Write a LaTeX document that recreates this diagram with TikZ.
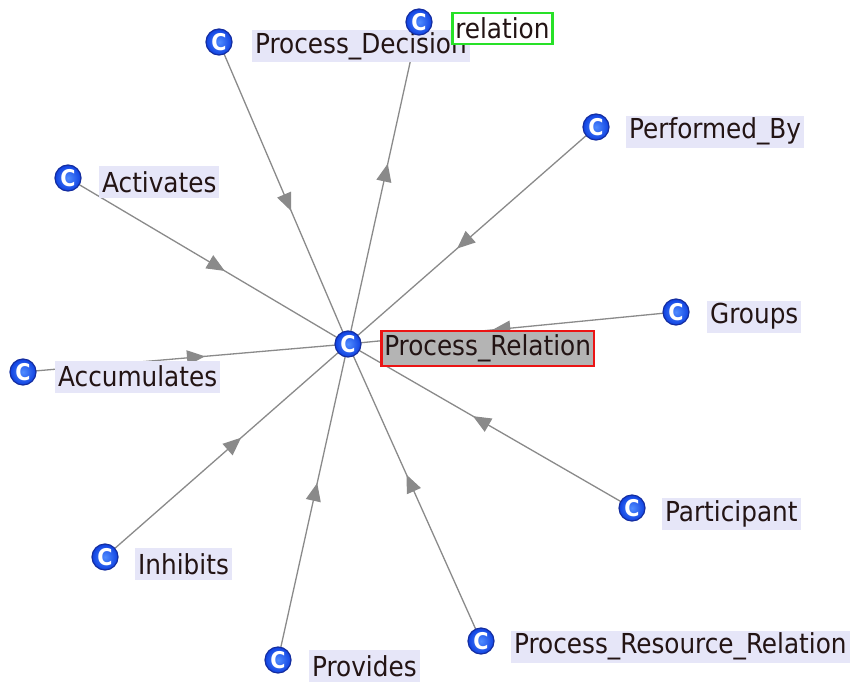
\documentclass[tikz,border=0pt]{standalone}
\usepackage{fontspec}
\setmainfont{DejaVu Sans Condensed}
\usetikzlibrary{arrows.meta,decorations.markings,backgrounds}
\definecolor{lav}{RGB}{230,230,248}
\definecolor{edgegray}{RGB}{138,138,138}
\definecolor{icin}{RGB}{80,140,255}
\definecolor{icout}{RGB}{15,65,225}
\definecolor{icdark}{RGB}{20,45,160}
\definecolor{txt}{RGB}{35,20,20}
\definecolor{selgray}{RGB}{180,180,180}
\definecolor{selred}{RGB}{235,20,20}
\definecolor{selgreen}{RGB}{40,225,40}
\tikzset{
 ic/.style={circle,minimum size=26pt,inner sep=0pt,inner color=icin,outer color=icout,draw=icdark,line width=1.2pt,text=white,font=\fontsize{23}{23}\selectfont\bfseries},
 lbl/.style={anchor=west,fill=lav,text=txt,inner xsep=3pt,inner ysep=0pt,minimum height=32pt,font=\fontsize{27.5}{27.5}\selectfont},
 rel/.style={edgegray,line width=1.3pt,postaction={decorate},decoration={markings,mark=at position 0.56 with {\arrow{Triangle[length=18pt,width=15pt]}}}},
}
\begin{document}
\begin{tikzpicture}[x=1pt,y=-1pt]
\useasboundingbox (0,0) rectangle (850,682);
% icon centres
\coordinate (cPR) at (348,344);
\coordinate (cPD) at (219,42);
\coordinate (cRL) at (419,22);
\coordinate (cPB) at (596,127);
\coordinate (cAC) at (68,178);
\coordinate (cGR) at (676,312);
\coordinate (cAM) at (23,372);
\coordinate (cPA) at (632,508);
\coordinate (cIN) at (105,557);
\coordinate (cPV) at (278,660);
\coordinate (cRR) at (481,641);
% labels
\node[lbl,fill=selgray,draw=selred,line width=2.5pt,inner xsep=3pt,minimum height=35pt] (lPR) at ([xshift=32pt,yshift=-4.5pt]cPR) {Process\_Relation};
\node[lbl] (lPD) at ([xshift=33pt,yshift=-4pt]cPD) {Process\_Decision};
\node[lbl,fill=white,draw=selgreen,line width=2.5pt,minimum height=31pt] (lRL) at ([xshift=32pt,yshift=-6.5pt]cRL) {relation};
\node[lbl] (lPB) at ([xshift=30pt,yshift=-4.5pt]cPB) {Performed\_By};
\node[lbl] (lAC) at ([xshift=31pt,yshift=-4pt]cAC) {Activates};
\node[lbl] (lGR) at ([xshift=31pt,yshift=-4.5pt]cGR) {Groups};
\node[lbl] (lAM) at ([xshift=32pt,yshift=-4.5pt]cAM) {Accumulates};
\node[lbl] (lPA) at ([xshift=30pt,yshift=-5.5pt]cPA) {Participant};
\node[lbl] (lIN) at ([xshift=30pt,yshift=-7pt]cIN) {Inhibits};
\node[lbl] (lPV) at ([xshift=31pt,yshift=-6pt]cPV) {Provides};
\node[lbl] (lRR) at ([xshift=30pt,yshift=-5.5pt]cRR) {Process\_Resource\_Relation};
% icons
\node[ic] (PR) at (cPR) {C};
\node[ic] (PD) at (cPD) {C};
\node[ic] (RL) at (cRL) {C};
\node[ic] (PB) at (cPB) {C};
\node[ic] (AC) at (cAC) {C};
\node[ic] (GR) at (cGR) {C};
\node[ic] (AM) at (cAM) {C};
\node[ic] (PA) at (cPA) {C};
\node[ic] (IN) at (cIN) {C};
\node[ic] (PV) at (cPV) {C};
\node[ic] (RR) at (cRR) {C};
% edges
\begin{scope}[on background layer]
\draw[rel] (PD.center) -- (PR.center);
\draw[rel] (PR.center) -- (RL.center);
\draw[rel] (PB.center) -- (PR.center);
\draw[rel] (AC.center) -- (PR.center);
\draw[rel] (GR.center) -- (PR.center);
\draw[rel] (AM.center) -- (PR.center);
\draw[rel] (PA.center) -- (PR.center);
\draw[rel] (IN.center) -- (PR.center);
\draw[rel] (PV.center) -- (PR.center);
\draw[rel] (RR.center) -- (PR.center);
\end{scope}
\end{tikzpicture}
\end{document}
